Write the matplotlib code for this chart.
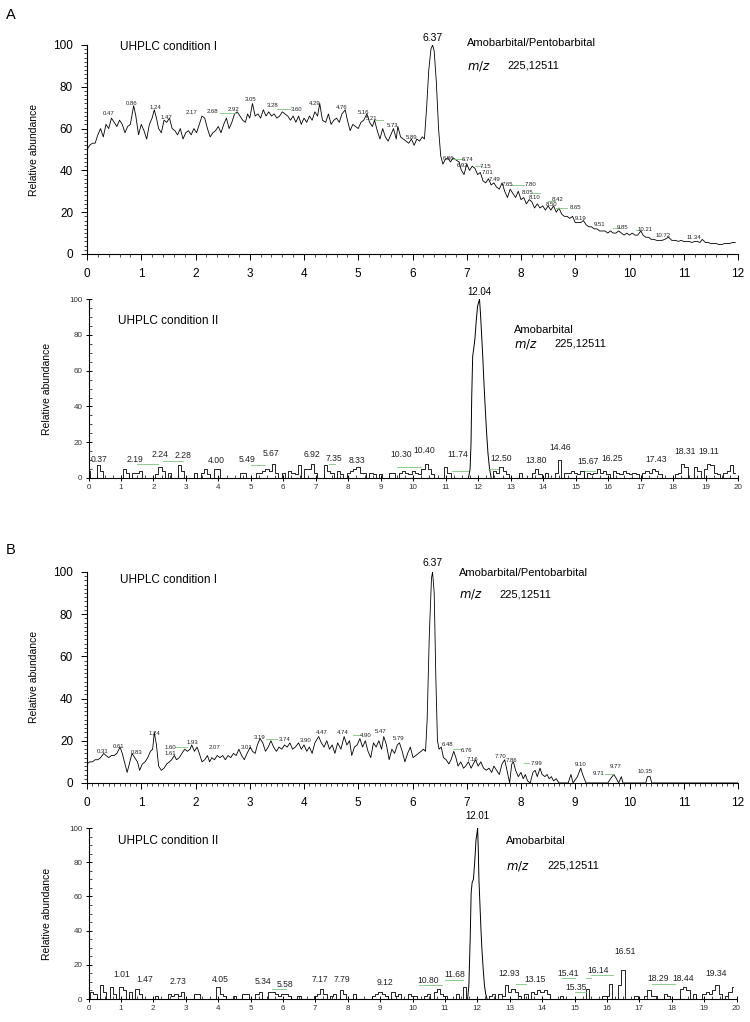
import matplotlib
matplotlib.use("Agg")
import matplotlib.pyplot as plt
from matplotlib.ticker import MultipleLocator
import numpy as np

plt.rcParams['font.family'] = ['Liberation Sans', 'DejaVu Sans']

# ---- A, condition I (0-12 min) ----
a1_t = [0.00, 0.05, 0.10, 0.15, 0.20, 0.25, 0.30, 0.35, 0.40, 0.45, 0.50, 0.55, 0.60, 0.65, 0.70, 0.75, 0.80, 0.86,
        0.90, 0.95, 1.00, 1.05, 1.10, 1.15, 1.20, 1.24, 1.28, 1.32, 1.37, 1.42, 1.47, 1.52, 1.57, 1.62, 1.67, 1.72,
        1.77, 1.82, 1.87, 1.92, 1.97, 2.02, 2.07, 2.12, 2.17, 2.22, 2.27, 2.32, 2.37, 2.42, 2.47, 2.52, 2.57, 2.62,
        2.67, 2.72, 2.77, 2.82, 2.87, 2.92, 2.96, 3.00, 3.05, 3.10, 3.15, 3.20, 3.25, 3.30, 3.35, 3.40, 3.45, 3.50,
        3.55, 3.60, 3.65, 3.70, 3.75, 3.80, 3.85, 3.90, 3.95, 4.00, 4.05, 4.10, 4.15, 4.20, 4.25, 4.29, 4.34, 4.40,
        4.45, 4.50, 4.55, 4.60, 4.65, 4.70, 4.76, 4.80, 4.85, 4.90, 4.95, 5.00, 5.05, 5.10, 5.16, 5.21, 5.26, 5.30,
        5.35, 5.40, 5.45, 5.50, 5.55, 5.60, 5.65, 5.70, 5.73, 5.78, 5.83, 5.88, 5.93, 5.98, 6.03, 6.08, 6.13, 6.18,
        6.22, 6.26, 6.30, 6.34, 6.37, 6.40, 6.44, 6.48, 6.52, 6.56, 6.60, 6.65, 6.70, 6.75, 6.80, 6.86, 6.90, 6.95,
        7.00, 7.05, 7.10, 7.15, 7.20, 7.25, 7.30, 7.35, 7.40, 7.45, 7.50, 7.55, 7.60, 7.65, 7.70, 7.75, 7.80, 7.85,
        7.90, 7.95, 8.00, 8.05, 8.10, 8.15, 8.20, 8.25, 8.30, 8.35, 8.40, 8.45, 8.50, 8.55, 8.60, 8.65, 8.70, 8.75,
        8.80, 8.85, 8.90, 8.95, 9.00, 9.05, 9.10, 9.15, 9.20, 9.25, 9.30, 9.35, 9.40, 9.45, 9.50, 9.55, 9.60, 9.65,
        9.70, 9.75, 9.80, 9.85, 9.90, 9.95, 10.00, 10.05, 10.10, 10.15, 10.21, 10.25, 10.30, 10.35, 10.40, 10.45,
        10.50, 10.55, 10.60, 10.65, 10.72, 10.78, 10.85, 10.90, 10.95, 11.00, 11.05, 11.10, 11.15, 11.20, 11.25,
        11.30, 11.34, 11.40, 11.45, 11.50, 11.55, 11.60, 11.65, 11.70, 11.75, 11.80, 11.85, 11.90, 11.95]
a1_y = [50, 52, 53, 53, 57, 60, 56, 62, 60, 65, 63, 61, 64, 62, 58, 61, 62, 71,
        66, 57, 62, 59, 55, 62, 65, 69, 65, 60, 58, 64, 63, 65, 60, 59, 57, 60,
        55, 58, 59, 57, 60, 58, 62, 66, 65, 60, 56, 58, 59, 61, 58, 62, 65, 60,
        63, 67, 68, 66, 64, 63, 67, 65, 72, 66, 67, 65, 69, 66, 68, 66, 67, 65,
        66, 68, 67, 66, 64, 66, 63, 66, 62, 65, 63, 66, 64, 68, 66, 72, 64, 63,
        67, 62, 64, 65, 63, 67, 69, 64, 59, 62, 61, 60, 63, 64, 67, 63, 61, 64,
        59, 55, 60, 56, 54, 57, 60, 55, 61, 56, 55, 54, 53, 55, 52, 55, 54, 56,
        55, 70, 88, 98, 100, 97, 82, 60, 47, 43, 45, 46, 44, 46, 45, 44, 40, 38,
        43, 40, 42, 41, 38, 39, 35, 34, 36, 33, 34, 32, 31, 34, 30, 27, 31, 29,
        27, 30, 26, 27, 24, 26, 25, 22, 24, 22, 23, 21, 23, 21, 23, 20, 22, 19,
        18, 18, 17, 18, 15, 15, 15, 16, 14, 13, 13, 12, 12, 11, 11, 11, 10, 11,
        10, 10, 11, 10, 9, 10, 9, 10, 9, 9, 11, 9, 8, 8, 7, 7,
        6.5, 6.5, 6.5, 7, 8, 6.5, 6.5, 6, 6.5, 6, 6, 6, 5.5, 6, 6,
        5.5, 7, 5.5, 5.5, 5, 5, 5, 4.5, 4.5, 5, 5, 5, 5.5, 5.5]
a1_labels = ['0.47', '0.86', '1.24', '1.47', '2.17', '2.68', '2.92', '3.05', '3.28', '3.60', '4.29', '4.76',
             '5.16', '5.21', '5.73', '5.89', '6.86', '6.74', '6.92', '7.15', '7.01', '7.49', '7.65', '7.80',
             '8.05', '8.10', '8.42', '8.50', '8.65', '9.19', '9.51', '9.85', '10.21', '10.72', '11.34']

# ---- A, condition II (0-20 min), 0.1 min bins ----
a2_noise = [4, 0, 0, 7, 4, 0, 0, 0, 0, 0,
            0, 5, 3, 0, 3, 3, 4, 0, 0, 0,
            0, 2, 6, 4, 0, 3, 0, 0, 7, 4,
            0, 0, 0, 3, 0, 3, 5, 2, 0, 5,
            5, 0, 0, 0, 0, 0, 0, 3, 3, 0,
            0, 0, 3, 3, 4, 5, 4, 8, 3, 0,
            3, 0, 4, 3, 2, 7, 0, 5, 5, 8,
            3, 0, 0, 7, 4, 3, 0, 4, 2, 0,
            3, 4, 5, 6, 3, 3, 0, 3, 2, 0,
            2, 0, 0, 3, 3, 0, 3, 4, 3, 2,
            4, 3, 2, 5, 8, 5, 2, 0, 0, 0,
            6, 3, 0, 0, 0, 0, 0, 0, 0, 0,
            0, 0, 0, 0, 0, 4, 3, 6, 4, 2,
            0, 0, 0, 3, 0, 0, 0, 3, 5, 2,
            0, 3, 0, 0, 3, 10, 0, 3, 3, 4,
            3, 2, 4, 0, 3, 2, 3, 5, 3, 4,
            2, 0, 4, 3, 2, 4, 3, 2, 3, 2,
            0, 3, 4, 3, 5, 4, 2, 0, 0, 0,
            0, 2, 3, 8, 6, 0, 0, 6, 4, 0,
            5, 8, 7, 3, 2, 0, 3, 4, 7, 3]
a2_peak_t = [11.70, 11.75, 11.78, 11.80, 11.83, 11.86, 11.90, 11.94, 11.98, 12.01, 12.04, 12.07, 12.10,
             12.14, 12.18, 12.22, 12.26, 12.30, 12.35, 12.40]
a2_peak_y = [0, 5, 20, 45, 68, 72, 78, 88, 96, 98, 100, 92, 82, 68, 52, 38, 25, 14, 5, 0]
a2_labels = ['0.37', '2.19', '2.24', '2.28', '4.00', '5.49', '5.67', '6.92', '7.35', '8.33', '10.30', '10.40',
             '11.74', '12.50', '13.80', '14.46', '15.67', '16.25', '17.43', '18.31', '19.11']

# ---- B, condition I (0-12 min) ----
b1_t = [0.00, 0.05, 0.10, 0.15, 0.20, 0.25, 0.31, 0.35, 0.40, 0.45, 0.50, 0.55, 0.61, 0.65, 0.70, 0.74, 0.78,
        0.83, 0.88, 0.93, 0.97, 1.02, 1.07, 1.12, 1.17, 1.21, 1.24, 1.28, 1.32, 1.37, 1.42, 1.47, 1.52, 1.56,
        1.61, 1.65, 1.70, 1.75, 1.80, 1.85, 1.90, 1.93, 1.98, 2.03, 2.07, 2.12, 2.17, 2.22, 2.26, 2.30, 2.35,
        2.40, 2.45, 2.50, 2.55, 2.60, 2.65, 2.70, 2.75, 2.80, 2.85, 2.90, 2.95, 3.01, 3.05, 3.10, 3.14, 3.19,
        3.24, 3.29, 3.34, 3.39, 3.44, 3.49, 3.54, 3.59, 3.64, 3.69, 3.74, 3.79, 3.84, 3.90, 3.95, 4.00, 4.05,
        4.10, 4.15, 4.20, 4.27, 4.32, 4.37, 4.42, 4.47, 4.52, 4.57, 4.62, 4.68, 4.74, 4.79, 4.84, 4.88, 4.93,
        4.98, 5.03, 5.08, 5.13, 5.18, 5.23, 5.28, 5.33, 5.38, 5.43, 5.47, 5.52, 5.57, 5.62, 5.67, 5.72, 5.76,
        5.81, 5.86, 5.91, 5.96, 6.01, 6.06, 6.11, 6.16, 6.20, 6.24, 6.27, 6.31, 6.35, 6.37, 6.40, 6.43, 6.46,
        6.49, 6.53, 6.57, 6.62, 6.67, 6.71, 6.76, 6.80, 6.84, 6.89, 6.94, 6.98, 7.03, 7.08, 7.12, 7.16, 7.21,
        7.26, 7.31, 7.36, 7.41, 7.46, 7.50, 7.55, 7.60, 7.65, 7.70, 7.75, 7.79, 7.83, 7.86, 7.90, 7.95, 8.00,
        8.04, 8.08, 8.12, 8.17, 8.22, 8.26, 8.30, 8.35, 8.39, 8.44, 8.48, 8.52, 8.56, 8.60, 8.65, 8.70, 8.87,
        8.92, 8.96, 9.04, 9.10, 9.15, 9.20, 9.60, 9.65, 9.71, 9.76, 9.80, 9.85, 9.88, 10.30, 10.33, 10.38,
        10.41, 12.00]
b1_y = [9, 10, 10, 11, 11, 12, 14, 13, 12, 13, 13, 14, 17, 14, 9, 5, 9,
        14, 12, 10, 6, 9, 10, 12, 15, 16, 24, 18, 8, 6, 7, 9, 10, 11,
        13, 11, 12, 14, 16, 15, 16, 18, 15, 17, 14, 10, 11, 13, 10, 12, 11,
        13, 12, 13, 11, 13, 12, 14, 13, 16, 13, 11, 14, 17, 15, 14, 18, 21,
        19, 15, 17, 20, 17, 15, 17, 16, 18, 17, 19, 16, 17, 19, 16, 18, 15,
        17, 14, 19, 22, 19, 17, 20, 16, 18, 14, 19, 16, 22, 18, 20, 13, 17,
        18, 21, 17, 20, 15, 12, 19, 17, 20, 16, 22, 18, 11, 16, 14, 18, 19,
        15, 10, 14, 17, 12, 13, 14, 15, 16, 15, 30, 70, 97, 100, 90, 50, 20,
        16, 17, 12, 11, 9, 11, 15, 12, 8, 10, 7, 8, 10, 7, 9, 11, 8,
        10, 7, 6, 7, 5, 8, 6, 4, 9, 11, 5, 0, 9, 10, 6, 3, 5,
        2, 4, 1, 0, 5, 6, 3, 7, 4, 3, 4, 2, 3, 1, 2, 0, 0,
        4, 0, 3, 7, 3, 0, 0, 2, 4, 2, 0, 3, 0, 0, 3, 3,
        0, 0]
b1_labels = ['0.31', '0.61', '0.83', '1.24', '1.60', '1.61', '1.93', '2.07', '3.01', '3.19', '3.74', '3.90',
             '4.47', '4.74', '4.90', '5.47', '5.79', '6.48', '6.76', '7.16', '7.70', '7.86', '7.99', '9.10',
             '9.71', '9.77', '10.35']

# ---- B, condition II (0-20 min), 0.1 min bins ----
b2_noise = [0, 4, 3, 0, 8, 4, 0, 7, 3, 0,
            7, 5, 0, 4, 0, 6, 3, 0, 0, 0,
            0, 2, 0, 0, 0, 3, 2, 3, 2, 4,
            0, 0, 0, 3, 3, 0, 0, 0, 0, 0,
            7, 3, 2, 0, 0, 2, 0, 0, 3, 3,
            0, 0, 3, 4, 0, 0, 4, 4, 3, 2,
            3, 3, 2, 0, 0, 2, 0, 0, 0, 0,
            2, 3, 6, 3, 0, 2, 3, 0, 5, 3,
            0, 0, 3, 0, 0, 0, 0, 0, 2, 3,
            4, 3, 2, 0, 4, 2, 3, 0, 0, 3,
            2, 2, 0, 0, 2, 3, 0, 4, 6, 3,
            2, 0, 0, 0, 3, 0, 7, 0, 0, 0,
            0, 0, 0, 0, 2, 3, 0, 3, 2, 8,
            4, 6, 4, 2, 0, 3, 0, 4, 3, 5,
            4, 5, 3, 0, 0, 0, 2, 0, 0, 0,
            0, 0, 0, 0, 6, 0, 0, 0, 0, 2,
            2, 9, 0, 0, 8, 17, 0, 0, 0, 2,
            0, 0, 2, 5, 2, 2, 0, 0, 3, 2,
            0, 0, 0, 6, 7, 5, 0, 3, 0, 0,
            3, 4, 3, 5, 8, 3, 0, 2, 4, 7]
b2_peak_t = [11.70, 11.74, 11.78, 11.81, 11.84, 11.88, 11.92, 11.96, 11.99, 12.01, 12.03, 12.05, 12.08,
             12.11, 12.14, 12.18, 12.22, 12.26, 12.30]
b2_peak_y = [0, 8, 35, 62, 68, 70, 80, 93, 97, 100, 88, 70, 56, 42, 30, 18, 8, 3, 0]
b2_labels = ['1.01', '1.47', '2.73', '4.05', '5.34', '5.58', '7.17', '7.79', '9.12', '10.80', '11.68', '12.93',
             '13.15', '15.41', '15.35', '16.14', '16.51', '18.29', '18.44', '19.34']

bins = np.round(np.arange(200) * 0.1, 1)

# where the instrument software printed each retention-time tag (x, y centre)
a1_pos = [(0.39, 67), (0.82, 72), (1.27, 70), (1.46, 65.5), (1.92, 67.5), (2.32, 68), (2.71, 69), (3.02, 74),
          (3.43, 71), (3.87, 69), (4.20, 72), (4.70, 70), (5.09, 67.5), (5.24, 65), (5.64, 61.5), (5.98, 55.5),
          (6.66, 45.5), (7.02, 45), (6.93, 42.5), (7.34, 42), (7.39, 39), (7.52, 35.5), (7.74, 33), (8.17, 33),
          (8.13, 29.5), (8.26, 27), (8.68, 26), (8.57, 23.5), (9.00, 22), (9.09, 17), (9.45, 14), (9.88, 12.5),
          (10.29, 11.5), (10.62, 9), (11.19, 8)]
a2_pos = [(0.31, 10.6), (1.44, 10.6), (2.19, 13.4), (2.90, 12.3), (3.93, 9.7), (4.88, 10.4), (5.61, 13.8),
          (6.89, 13.2), (7.56, 10.8), (8.28, 9.7), (9.62, 13.2), (10.34, 15.6), (11.37, 13.2), (12.71, 11),
          (13.79, 9.7), (14.51, 17), (15.37, 9.2), (16.13, 10.8), (17.47, 10.4), (18.36, 14.7), (19.10, 14.7)]
b1_pos = [(0.28, 14.8), (0.58, 17.5), (0.91, 14.4), (1.25, 23.5), (1.53, 16.8), (1.53, 13.8), (1.94, 19.1),
          (2.35, 16.8), (2.95, 17), (3.19, 21.5), (3.64, 20.5), (4.03, 20), (4.32, 24), (4.71, 23.7),
          (5.14, 22.3), (5.42, 24.6), (5.75, 21), (6.64, 18), (7.00, 15.6), (7.10, 11.2), (7.62, 12.5),
          (7.83, 10.6), (8.29, 9.3), (9.09, 8.9), (9.43, 4.3), (9.74, 7.7), (10.29, 5.6)]
b2_pos = [(1.04, 14.4), (1.73, 11.5), (2.76, 10.1), (4.08, 11.5), (5.38, 10.1), (6.07, 8.5), (7.13, 11.5),
          (7.82, 11.5), (9.16, 9.5), (10.47, 10.6), (11.30, 14.4), (12.98, 15), (13.78, 11.5), (14.81, 15),
          (15.05, 6.5), (15.72, 16.5), (16.56, 27.6), (17.58, 12), (18.37, 12), (19.38, 15)]

fig = plt.figure(figsize=(7.5, 10.22), dpi=100)
ax_a1 = fig.add_axes([0.116, 0.7515, 0.868, 0.2045])
ax_a2 = fig.add_axes([0.118, 0.5323, 0.866, 0.175])
ax_b1 = fig.add_axes([0.116, 0.2339, 0.868, 0.2065])
ax_b2 = fig.add_axes([0.118, 0.0225, 0.864, 0.1673])

GREEN = '#7cc47c'


def style_cond1(ax, minor_x):
    ax.set_xlim(0, 12)
    ax.set_ylim(0, 100)
    ax.spines['top'].set_visible(False)
    ax.spines['right'].set_visible(False)
    ax.spines['left'].set_linewidth(0.8)
    ax.spines['bottom'].set_linewidth(0.8)
    ax.xaxis.set_major_locator(MultipleLocator(1))
    ax.xaxis.set_minor_locator(MultipleLocator(minor_x))
    ax.yaxis.set_major_locator(MultipleLocator(20))
    ax.yaxis.set_minor_locator(MultipleLocator(2))
    ax.tick_params(which='major', length=4, width=0.7, labelsize=8.5, pad=6)
    ax.tick_params(which='minor', length=2, width=0.5)
    ax.set_ylabel('Relative abundance', fontsize=7.5, labelpad=10)


def style_cond2(ax):
    ax.set_xlim(0, 20)
    ax.set_ylim(0, 100)
    ax.spines['top'].set_visible(False)
    ax.spines['right'].set_visible(False)
    ax.spines['left'].set_linewidth(0.8)
    ax.spines['bottom'].set_linewidth(0.8)
    ax.xaxis.set_major_locator(MultipleLocator(1))
    ax.xaxis.set_minor_locator(MultipleLocator(0.25))
    ax.yaxis.set_major_locator(MultipleLocator(20))
    ax.yaxis.set_minor_locator(MultipleLocator(5))
    ax.tick_params(which='major', direction='inout', length=5, width=0.7, labelsize=5.8,
                   labelcolor='#333333', pad=2)
    ax.tick_params(which='minor', direction='in', length=2.5, width=0.5)
    ax.set_ylabel('Relative abundance', fontsize=7.5, labelpad=12)


def tag_peaks(ax, labels, pos, size):
    for lab, (x, y) in zip(labels, pos):
        ax.text(x, y, lab, fontsize=size, color='#222222', ha='center', va='center')


def leaders(ax, segs):
    for x0, x1, yy in segs:
        ax.plot([x0, x1], [yy, yy], color=GREEN, lw=0.6)


# A - condition I
ax_a1.plot(a1_t, a1_y, color='black', lw=0.6)
style_cond1(ax_a1, 0.2)
tag_peaks(ax_a1, a1_labels, a1_pos, 4.3)
leaders(ax_a1, [(2.45, 2.75, 67.5), (3.5, 3.75, 69.5), (5.3, 5.45, 64), (6.75, 6.95, 45.5), (7.15, 7.28, 42),
                (7.8, 8.05, 33), (8.2, 8.35, 29), (8.5, 8.62, 25.5), (8.65, 8.85, 22), (9.7, 9.82, 12.5),
                (10.12, 10.2, 11.5)])
ax_a1.text(6.37, 101, '6.37', fontsize=7.5, ha='center', va='bottom', clip_on=False)
ax_a1.text(0.6, 99, 'UHPLC condition I', fontsize=8.5, va='center')
ax_a1.text(7.0, 101, 'Amobarbital/Pentobarbital', fontsize=8, va='center', clip_on=False)
ax_a1.text(7.0, 90, r'$m/z$', fontsize=8.5, va='center')
ax_a1.text(7.75, 90, '225,12511', fontsize=8, va='center')

# A - condition II
ax_a2.plot(bins, a2_noise, color='black', lw=0.6, drawstyle='steps-mid')
ax_a2.plot(a2_peak_t, a2_peak_y, color='black', lw=0.7)
style_cond2(ax_a2)
tag_peaks(ax_a2, a2_labels, a2_pos, 6.2)
leaders(ax_a2, [(1.5, 2.15, 8), (2.3, 2.9, 9.5), (5.0, 5.45, 7.5), (7.4, 7.6, 8), (9.5, 10.25, 6),
                (11.2, 11.7, 4), (12.3, 12.6, 5), (15.3, 15.6, 4)])
ax_a2.text(12.04, 101, '12.04', fontsize=7, ha='center', va='bottom', clip_on=False)
ax_a2.text(0.9, 88, 'UHPLC condition II', fontsize=8.5, va='center')
ax_a2.text(13.1, 83, 'Amobarbital', fontsize=8, va='center')
ax_a2.text(13.1, 75, r'$m/z$', fontsize=8.5, va='center')
ax_a2.text(14.35, 75, '225,12511', fontsize=8, va='center')

# B - condition I
ax_b1.plot(b1_t, b1_y, color='black', lw=0.6)
style_cond1(ax_b1, 0.1)
tag_peaks(ax_b1, b1_labels, b1_pos, 4.3)
leaders(ax_b1, [(1.62, 1.85, 17), (3.3, 3.5, 21), (4.9, 5.05, 22.5), (6.75, 6.9, 16), (8.05, 8.15, 9.5),
                (9.55, 9.7, 4.3)])
ax_b1.text(6.37, 102, '6.37', fontsize=7.5, ha='center', va='bottom', clip_on=False)
ax_b1.text(0.6, 96, 'UHPLC condition I', fontsize=8.5, va='center')
ax_b1.text(6.85, 99.5, 'Amobarbital/Pentobarbital', fontsize=8, va='center')
ax_b1.text(6.85, 89.5, r'$m/z$', fontsize=8.5, va='center')
ax_b1.text(7.6, 89.5, '225,12511', fontsize=8, va='center')

# B - condition II
ax_b2.plot(bins, b2_noise, color='black', lw=0.6, drawstyle='steps-mid')
ax_b2.plot(b2_peak_t, b2_peak_y, color='black', lw=0.7)
style_cond2(ax_b2)
tag_peaks(ax_b2, b2_labels, b2_pos, 6.2)
leaders(ax_b2, [(5.65, 6.1, 6), (10.2, 10.9, 8), (11.0, 11.55, 11), (13.2, 13.5, 9),
                (14.6, 15.0, 12), (15.0, 15.35, 4), (15.35, 15.5, 12), (15.5, 16.2, 14),
                (17.4, 18.1, 9)])
ax_b2.text(12.01, 104, '12.01', fontsize=7, ha='center', va='bottom', clip_on=False)
ax_b2.text(0.9, 92.5, 'UHPLC condition II', fontsize=8.5, va='center')
ax_b2.text(12.9, 92.5, 'Amobarbital', fontsize=8, va='center')
ax_b2.text(12.9, 78, r'$m/z$', fontsize=8.5, va='center')
ax_b2.text(14.15, 78, '225,12511', fontsize=8, va='center')

fig.text(0.008, 0.985, 'A', fontsize=10.5, va='center')
fig.text(0.008, 0.462, 'B', fontsize=10.5, va='center')

fig.savefig('out.png', dpi=100)
